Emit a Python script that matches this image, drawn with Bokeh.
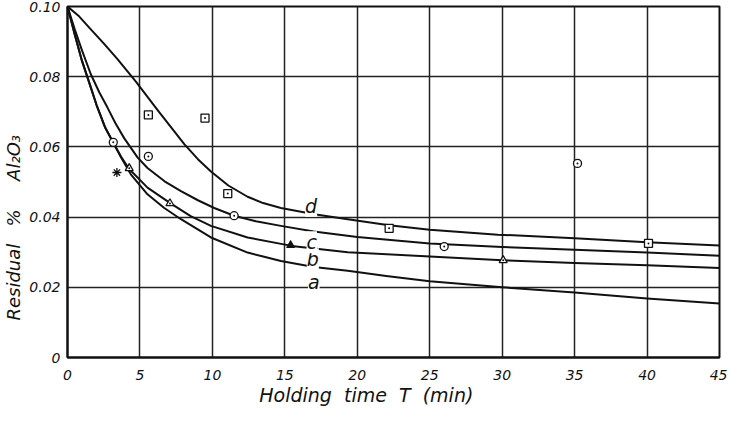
from bokeh.plotting import figure
from bokeh.models import FixedTicker, CustomJSTickFormatter, Range1d
from bokeh.core.properties import value
from bokeh.embed import file_html
from bokeh.resources import INLINE

# ---- data ----
x_ticks = [0, 5, 10, 15, 20, 25, 30, 35, 40, 45]
y_ticks = [0, 0.02, 0.04, 0.06, 0.08, 0.10]

a_T = [0, 0.5, 1, 1.38, 2, 2.6, 3.16, 3.7, 4.37, 5.52, 6.68, 7.83, 9.9, 12.43, 14.73, 17, 19.34, 22, 25, 30, 35, 40, 45]
a_v = [0.100, 0.092, 0.0845, 0.0798, 0.072, 0.0655, 0.0612, 0.057, 0.0522, 0.0465, 0.0426, 0.0394, 0.0342, 0.0299, 0.0275, 0.0258, 0.0247, 0.0232, 0.0217, 0.0200, 0.0185, 0.0168, 0.0154]

b_T = [0, 0.5, 1, 1.38, 2, 2.6, 3.16, 3.7, 4.26, 5.52, 7.09, 8.5, 9.9, 12.43, 15.47, 19.34, 25, 30, 35, 40, 45]
b_v = [0.100, 0.092, 0.0845, 0.0798, 0.072, 0.0655, 0.0612, 0.0572, 0.0537, 0.0484, 0.044, 0.0403, 0.0375, 0.0342, 0.0318, 0.0300, 0.0288, 0.0277, 0.0269, 0.0263, 0.0255]

c_T = [0, 0.5, 1, 1.61, 2.2, 2.76, 3.3, 3.91, 4.83, 5.52, 6.7, 7.83, 9, 10.13, 11.5, 13, 14.73, 17, 20, 25, 30, 35, 40, 45]
c_v = [0.100, 0.0935, 0.0875, 0.0807, 0.0755, 0.0712, 0.0668, 0.0625, 0.057, 0.054, 0.0502, 0.0474, 0.0448, 0.0426, 0.0404, 0.0388, 0.0375, 0.0359, 0.0343, 0.0325, 0.0315, 0.0307, 0.0299, 0.029]

d_T = [0, 0.8, 1.61, 2.5, 3.45, 4.72, 6.22, 7.37, 8.06, 9, 9.9, 11.1, 12.43, 13.5, 14.73, 17.04, 19.34, 22.2, 25, 29.7, 35, 40, 45]
d_v = [0.100, 0.0972, 0.0935, 0.0895, 0.085, 0.0786, 0.0705, 0.0644, 0.0608, 0.0565, 0.053, 0.049, 0.0458, 0.044, 0.0426, 0.0408, 0.0394, 0.0377, 0.0364, 0.035, 0.034, 0.0328, 0.0319]

sq_T = [5.58, 9.49, 11.06, 22.2, 40.1]
sq_v = [0.0691, 0.0682, 0.0467, 0.0368, 0.0325]
ci_T = [3.16, 5.58, 11.5, 26.0, 35.2]
ci_v = [0.0613, 0.0573, 0.0404, 0.0316, 0.0553]
tr_T = [4.26, 7.07, 30.07, 46.0]
tr_v = [0.0539, 0.0439, 0.0277, 0.0252]
ft_T = [15.4]
ft_v = [0.032]
st_T = [3.41]
st_v = [0.0527]

curve_names = ["a", "b", "c", "d"]
name_T = [17.0, 16.93, 16.86, 16.81]
name_v = [0.0214, 0.028, 0.0328, 0.0432]

NB = "\u00a0"
x_title = "Holding" + NB * 2 + "time" + NB * 2 + "T" + NB * 2 + "(min)" + NB * 9
y_title = "Residual" + NB * 3 + "%" + NB * 5 + "Al\u2082O\u2083" + NB * 16

FONT = "DejaVu Sans"
INK = "#111111"

p = figure(frame_width=652, frame_height=351,
           min_border_left=62, min_border_right=8, min_border_top=6, min_border_bottom=50,
           x_range=Range1d(0, 45), y_range=Range1d(0, 0.10),
           output_backend="svg", toolbar_location=None)
p.background_fill_color = "white"
p.border_fill_color = "white"
p.outline_line_color = INK
p.outline_line_width = 2

for ax in (p.xaxis[0], p.yaxis[0]):
    ax.major_tick_out = 0
    ax.major_tick_in = 0
    ax.minor_tick_out = 0
    ax.minor_tick_in = 0
    ax.axis_line_color = INK
    ax.axis_line_width = 2
    ax.major_label_text_font = FONT
    ax.major_label_text_font_style = "italic"
    ax.major_label_text_color = INK
    ax.axis_label_text_font = FONT
    ax.axis_label_text_font_style = "italic"
    ax.axis_label_text_color = INK

p.xaxis.ticker = FixedTicker(ticks=x_ticks)
p.xaxis.formatter = CustomJSTickFormatter(code="return tick.toFixed(0);")
p.xaxis.major_label_text_font_size = "14px"
p.xaxis.major_label_standoff = 12
p.xaxis.axis_label = x_title
p.xaxis.axis_label_text_font_size = "19px"
p.xaxis.axis_label_standoff = 1

p.yaxis.ticker = FixedTicker(ticks=y_ticks)
p.yaxis.formatter = CustomJSTickFormatter(code="return tick == 0 ? '0' : tick.toFixed(2);")
p.yaxis.major_label_text_font_size = "14px"
p.yaxis.major_label_standoff = 7
p.yaxis.axis_label = y_title
p.yaxis.axis_label_text_font_size = "18px"
p.yaxis.axis_label_standoff = 2

p.xgrid.ticker = FixedTicker(ticks=x_ticks)
p.ygrid.ticker = FixedTicker(ticks=y_ticks)
for g in (p.xgrid[0], p.ygrid[0]):
    g.grid_line_color = "#222222"
    g.grid_line_width = 1.5
    g.grid_line_alpha = 1.0

for T, v in ((a_T, a_v), (b_T, b_v), (c_T, c_v), (d_T, d_v)):
    p.line(T, v, line_color=INK, line_width=2, line_join="round")

mk = dict(size=8, line_color=INK, line_width=1.3, fill_color="white")
p.scatter(sq_T, sq_v, marker="square_dot", **mk)
p.scatter(ci_T, ci_v, marker="circle_dot", **mk)
p.scatter(tr_T, tr_v, marker="triangle_dot", **mk)
p.scatter(ft_T, ft_v, marker="triangle", size=8, line_color=INK, fill_color=INK)
p.scatter(st_T, st_v, marker="asterisk", size=9, line_color=INK, line_width=1.3)

p.text(name_T, name_v, text=curve_names, text_font=value(FONT), text_font_style="italic",
       text_font_size="19px", text_color=INK, text_align="center", text_baseline="middle",
       background_fill_color="white")

open("out.html", "w").write(file_html(p, INLINE))
